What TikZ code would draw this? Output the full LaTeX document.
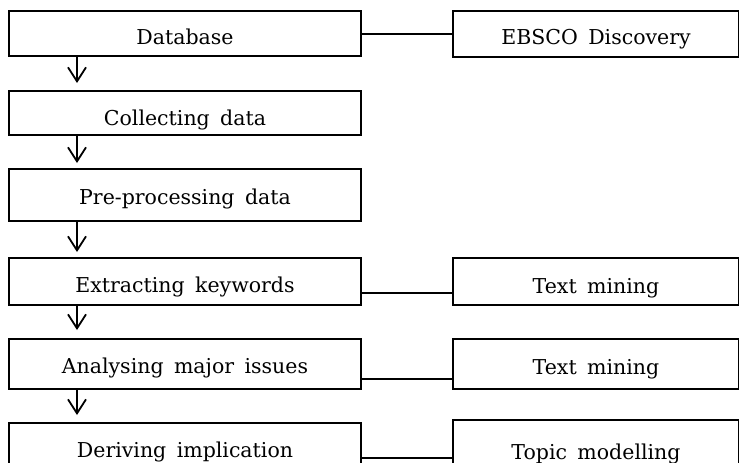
\documentclass[tikz,border=0pt]{standalone}
\usepackage{fontspec}
\setmainfont{DejaVu Serif}[WordSpace=1.6]
\usetikzlibrary{arrows.meta}
\begin{document}
\begin{tikzpicture}[x=1pt,y=-1pt,
  box/.style={draw, line width=2pt, anchor=north west, inner xsep=0pt, inner ysep=0pt,
              font=\fontsize{20.5}{25}\selectfont},
  lbox/.style={box, minimum width=352pt},
  rbox/.style={box, minimum width=286pt},
  flow/.style={line width=1.8pt, -{Straight Barb[length=14pt,width=18pt,line width=1.8pt]}},
  link/.style={line width=1.8pt}]
\useasboundingbox (0,0) rectangle (739,463);
\clip (0,0) rectangle (739,463);
% left column
\node[lbox, text height=33pt, text depth=12pt] (db)  at (8,10)  {Database};
\node[lbox, text height=34pt, text depth=10pt] (col) at (8,90)  {Collecting data};
\node[lbox, text height=35pt, text depth=17pt] (pre) at (8,168) {Pre-processing data};
\node[lbox, text height=34pt, text depth=13pt] (ext) at (8,257) {Extracting keywords};
\node[lbox, text height=34pt, text depth=16pt] (ana) at (8,338) {Analysing major issues};
\node[lbox, text height=34pt, text depth=19pt] (der) at (8,422) {Deriving implication};
% right column
\node[rbox, text height=33pt, text depth=13pt] (ebsco) at (452,10)  {EBSCO Discovery};
\node[rbox, text height=35pt, text depth=12pt] (tm1)   at (452,257) {Text mining};
\node[rbox, text height=35pt, text depth=15pt] (tm2)   at (452,338) {Text mining};
\node[rbox, text height=39pt, text depth=17pt] (topic) at (452,419) {Topic modelling};
% flow arrows
\draw[flow] ([xshift=69pt]db.south west)  -- ([xshift=69pt,yshift=7pt]col.north west);
\draw[flow] ([xshift=69pt]col.south west) -- ([xshift=69pt,yshift=5pt]pre.north west);
\draw[flow] ([xshift=69pt]pre.south west) -- ([xshift=69pt,yshift=5pt]ext.north west);
\draw[flow] ([xshift=69pt]ext.south west) -- ([xshift=69pt,yshift=8pt]ana.north west);
\draw[flow] ([xshift=69pt]ana.south west) -- ([xshift=69pt,yshift=7pt]der.north west);
% links
\draw[link] (ebsco.west -| db.east) -- (ebsco.west);
\draw[link] ([yshift=13pt]ext.south east) -- ([yshift=13pt]tm1.south west);
\draw[link] ([yshift=11pt]ana.south east) -- ([yshift=11pt]tm2.south west);
\draw[link] ([yshift=-36pt]der.north east) -- ([yshift=-39pt]topic.north west);
\end{tikzpicture}
\end{document}
